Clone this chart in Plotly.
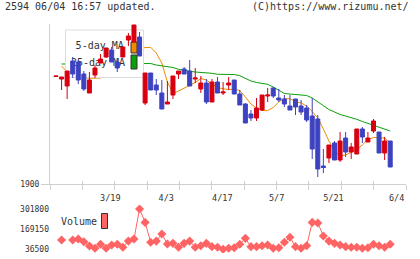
import plotly.graph_objects as go

# ---------------- data ----------------
IDX = list(range(61))
OPEN = [2007.5, 2005, 1998, 2023, 2022, 2010, 1991, 2009, 2021, 2027,
        2034, 2022, 2027, 2044, 2042, 2047, 1981, 2011, 1999, 1991,
        1980, 1989, 2010, 2015, 2013, 2005, 1995, 2001, 1982, 2002,
        1991, 1999, 2004, 1990, 1980, 1970, 1966, 1974, 1988, 1996,
        1986, 1985, 1978, 1985, 1978, 1976, 1968, 1965, 1918, 1926,
        1941, 1924, 1946, 1932, 1930, 1955, 1942, 1953, 1952, 1931, 1943]
HIGH = [2008, 2007, 2013, 2027, 2024, 2013, 2012, 2019, 2030, 2036,
        2037, 2026, 2037, 2051, 2059, 2052, 2011, 2011, 2005, 2004,
        2003, 2008, 2013, 2017, 2024, 2016, 2008, 2005, 2005, 2007,
        2002, 2007, 2004, 1994, 1981, 1974, 1986, 1989, 1996, 1997,
        1995, 1989, 1989, 1985, 1984, 1979, 1986, 1969, 1935, 1939,
        1943, 1952, 1952, 1941, 1955, 1957, 1952, 1965, 1952, 1947, 1943]
LOW = [2007.5, 1994, 1985, 2006, 2000, 1993, 1991, 2006, 2021, 2026,
       2022, 2012, 2027, 2038, 2042, 2028, 1979, 1994, 1989, 1975,
       1980, 1985, 2005, 2010, 1998, 2001, 1991, 1980, 1982, 1991,
       1989, 1994, 1990, 1979, 1961, 1963, 1963, 1973, 1982, 1986,
       1982, 1977, 1974, 1969, 1969, 1962, 1925, 1907, 1911, 1921,
       1924, 1922, 1927, 1925, 1930, 1941, 1942, 1951, 1931, 1924, 1917]
CLOSE = [2008, 2007, 2013, 2010, 2004, 1995, 2004, 2016, 2025, 2036,
         2022, 2016, 2037, 2048, 2059, 2028, 2011, 1994, 1994, 1975,
         1982, 2008, 2013, 2010, 1998, 2006, 2001, 1982, 2002, 1991,
         1992, 2001, 1990, 1979, 1961, 1966, 1976, 1989, 1989, 1988,
         1984, 1980, 1974, 1977, 1972, 1964, 1935, 1915, 1916.5, 1939,
         1924, 1943, 1932, 1937, 1955, 1947, 1946, 1963, 1931, 1943, 1917]
MA5 = [None, 2018, 2012, 2010, 2008, 2006.5, 2005.7, 2005.7, 2006, 2011,
       2016, 2020, 2024, 2029, 2033, 2036, 2036.7, 2036.7, 2031, 2021,
       2002, 1990.7, 1993, 1996, 1999, 2001.5, 2005.5, 2004, 2000, 1996.5,
       1995.2, 1994.5, 1994.7, 1993.5, 1987, 1980, 1976, 1973.5, 1973.3, 1976.5,
       1982, 1985.5, 1985.2, 1982.5, 1981, 1978, 1972.5, 1966, 1955, 1943,
       1933, 1928, 1929, 1932, 1934.5, 1939, 1944.5, 1946.5, 1946.5, 1946, 1941]
MA25 = [None, 2020, 2020, 2020, 2020, 2020, 2020, 2020, 2020, 2020.5,
        2020.5, 2020.5, 2020.5, 2020.5, 2020.7, 2020.7, 2020.7, 2020.5, 2019, 2018,
        2017.3, 2016.5, 2014.7, 2013.5, 2012.8, 2012, 2011.7, 2011.5, 2010.7, 2009.7,
        2009.7, 2009.7, 2009.5, 2008.3, 2005.5, 2003, 2001.5, 2000.7, 1999.7, 1997,
        1993.5, 1990.5, 1990, 1989.5, 1988.7, 1988.5, 1986, 1982, 1978, 1974.5,
        1972, 1969.5, 1968, 1966.5, 1964.7, 1962.5, 1960.5, 1958.7, 1957, 1955, 1953]
VOLUME = [None, 96000, None, 96000, 103000, 85000, 56000, 41000, 68000, 41000,
          63000, 68000, 48000, 89000, 103000, 301800, 213000, 81000, 89000, 136000,
          70000, 74000, 48000, 74000, 89000, 48000, 58000, 74000, 52000, 48000,
          34500, 41000, 45000, 68000, 107000, 52000, 52000, 58000, 63000, 41000,
          45000, 81000, 114000, 52000, 41000, 58000, 213000, 209000, 123000, 89000,
          74000, 63000, 52000, 48000, 48000, 41000, 45000, 68000, 58000, 48000, 68000]
DATE_LABELS = ["3/19", "4/3", "4/17", "5/7", "5/21", "6/4"]
DATE_POS = [9.75, 19.8, 29.85, 39.6, 49.8, 61.15]
PRICE_TICKS = [1900]
VOL_TICKS = [36500, 169150, 301800]
TITLE_LEFT = "2594 06/04 16:57 updated."
TITLE_RIGHT = "(C)https://www.rizumu.net/"
MA_NAMES = ["5-day MA", "25-day MA"]

for arr in (OPEN, HIGH, LOW, CLOSE, MA5, MA25, VOLUME):
    assert len(arr) == 61

# ---------------- style / layout geometry ----------------
W, H = 420, 259
ML, MR, MT, MB = 50, 14, 24, 6
PW, PH = W - ML - MR, H - MT - MB
RED, BLUE = "#d80010", "#3d42c0"
ORANGE, GREEN = "#f08a00", "#0aa00a"
VCOL = "#ff6464"
AXC = "#d0d0d0"
TXT = "#333333"
FONT = "DejaVu Sans Mono"
XMIN, XMAX = -1.077, 62.837
PMIN, PMAX = 1900, 2060
VMIN, VMAX = 9970, 328330
GRID_STEP = (XMAX - XMIN) / 11


def fx(px):
    return (px - ML) / PW


def fy(py):
    return (H - MB - py) / PH


fig = go.Figure()

# moving averages (bottom layer)
fig.add_trace(go.Scatter(x=IDX, y=MA5, mode="lines", line=dict(color=ORANGE, width=1),
                         xaxis="x", yaxis="y", hoverinfo="skip"))
fig.add_trace(go.Scatter(x=IDX, y=MA25, mode="lines", line=dict(color=GREEN, width=1),
                         xaxis="x", yaxis="y", hoverinfo="skip"))
# empty trace so the inside tick-mark axis gets its own overlay subplot
fig.add_trace(go.Scatter(x=[], y=[], xaxis="x5", yaxis="y", hoverinfo="skip"))

# legend box (overlay in pixel-like coordinates)
fig.add_trace(go.Scatter(x=[65.5, 143.5, 143.5, 65.5, 65.5], y=[30, 30, 77.5, 77.5, 30],
                         mode="lines", fill="toself", fillcolor="white",
                         line=dict(color="#dcdcdc", width=1),
                         xaxis="x2", yaxis="y2", hoverinfo="skip"))
fig.add_trace(go.Scatter(x=[99.7, 98], y=[46, 63], mode="text", text=MA_NAMES,
                         textposition="middle center",
                         textfont=dict(family=FONT, size=10, color=TXT),
                         xaxis="x2", yaxis="y2", hoverinfo="skip"))
fig.add_trace(go.Scatter(x=[131, 137, 137, 131, 131], y=[42, 42, 53, 53, 42], mode="lines",
                         fill="toself", fillcolor=ORANGE, line=dict(color="#333", width=1),
                         xaxis="x2", yaxis="y2", hoverinfo="skip"))
fig.add_trace(go.Scatter(x=[131, 137, 137, 131, 131], y=[55, 55, 69, 69, 55], mode="lines",
                         fill="toself", fillcolor=GREEN, line=dict(color="#333", width=1),
                         xaxis="x2", yaxis="y2", hoverinfo="skip"))

# candles (top layer)
fig.add_trace(go.Candlestick(
    x=IDX, open=OPEN, high=HIGH, low=LOW, close=CLOSE,
    increasing=dict(line=dict(color=RED, width=1), fillcolor=RED),
    decreasing=dict(line=dict(color=BLUE, width=1), fillcolor=BLUE),
    whiskerwidth=0, xaxis="x3", yaxis="y3", hoverinfo="skip"))

# volume
fig.add_trace(go.Scatter(x=IDX, y=VOLUME, mode="lines+markers", connectgaps=False,
                         line=dict(color=VCOL, width=1),
                         marker=dict(symbol="diamond", size=7, color=VCOL),
                         xaxis="x4", yaxis="y4", hoverinfo="skip"))

hidden = dict(visible=False, showgrid=False, zeroline=False, automargin=False)

fig.update_layout(
    template="none",
    width=W, height=H, margin=dict(l=ML, r=MR, t=MT, b=MB, pad=0, autoexpand=False),
    paper_bgcolor="white", plot_bgcolor="white", showlegend=False,
    boxgap=0.28, boxgroupgap=0,
    font=dict(family=FONT, color=TXT, size=9),
    xaxis=dict(domain=[0, 1], anchor="y", range=[XMIN, XMAX], automargin=False,
               tickmode="array", tickvals=DATE_POS, ticktext=DATE_LABELS,
               ticks="", showline=True, linecolor=AXC, linewidth=1,
               showgrid=False, zeroline=False,
               tickfont=dict(family=FONT, size=8.5, color=TXT),
               minor=dict(ticks="outside", ticklen=5, tickcolor=AXC, tickwidth=1,
                          tick0=XMIN, dtick=GRID_STEP, showgrid=False),
               ticklabelstandoff=6),
    xaxis5=dict(overlaying="x", anchor="y", range=[XMIN, XMAX], automargin=False,
                tickmode="linear", tick0=XMIN, dtick=GRID_STEP,
                ticks="inside", ticklen=3, tickcolor=AXC, tickwidth=1,
                showticklabels=False, showline=False, showgrid=False, zeroline=False),
    yaxis=dict(domain=[fy(184), 1], anchor="x", range=[PMIN, PMAX], automargin=False,
               tickmode="array", tickvals=PRICE_TICKS, ticktext=[str(v) for v in PRICE_TICKS],
               ticks="outside", ticklen=8, tickcolor=AXC, showline=True, linecolor=AXC,
               showgrid=False, zeroline=False,
               tickfont=dict(family=FONT, size=8, color=TXT)),
    xaxis2=dict(overlaying="x", anchor="y2", range=[ML, W - MR], **hidden),
    yaxis2=dict(overlaying="y", anchor="x2", range=[184, 24], **hidden),
    xaxis3=dict(overlaying="x", anchor="y3", range=[XMIN, XMAX],
                rangeslider=dict(visible=False), **hidden),
    yaxis3=dict(overlaying="y", anchor="x3", range=[PMIN, PMAX], **hidden),
    xaxis4=dict(domain=[0, 1], anchor="y4", range=[XMIN, XMAX], **hidden),
    yaxis4=dict(domain=[0, fy(205)], anchor="x4", range=[VMIN, VMAX], automargin=False,
                tickmode="array", tickvals=VOL_TICKS, ticktext=[str(v) for v in VOL_TICKS],
                ticks="", showline=False, showgrid=False, zeroline=False,
                tickfont=dict(family=FONT, size=8, color=TXT)),
)

# header texts
fig.add_annotation(text=TITLE_LEFT, xref="paper", yref="paper", x=fx(3), y=fy(6),
                   xanchor="left", yanchor="middle", showarrow=False,
                   font=dict(family=FONT, size=10, color=TXT))
fig.add_annotation(text=TITLE_RIGHT, xref="paper", yref="paper", x=fx(411), y=fy(6),
                   xanchor="right", yanchor="middle", showarrow=False,
                   font=dict(family=FONT, size=10, color=TXT))
# volume legend
fig.add_annotation(text="Volume", xref="paper", yref="paper", x=fx(58.5), y=fy(221.5),
                   xanchor="left", yanchor="middle", showarrow=False,
                   font=dict(family=FONT, size=10, color=TXT))
fig.add_shape(type="rect", xref="paper", yref="paper", x0=fx(101.5), x1=fx(107.5),
              y0=fy(213.5), y1=fy(228.5), fillcolor=VCOL, line=dict(color="#333", width=1))

fig.write_html("out.html")
